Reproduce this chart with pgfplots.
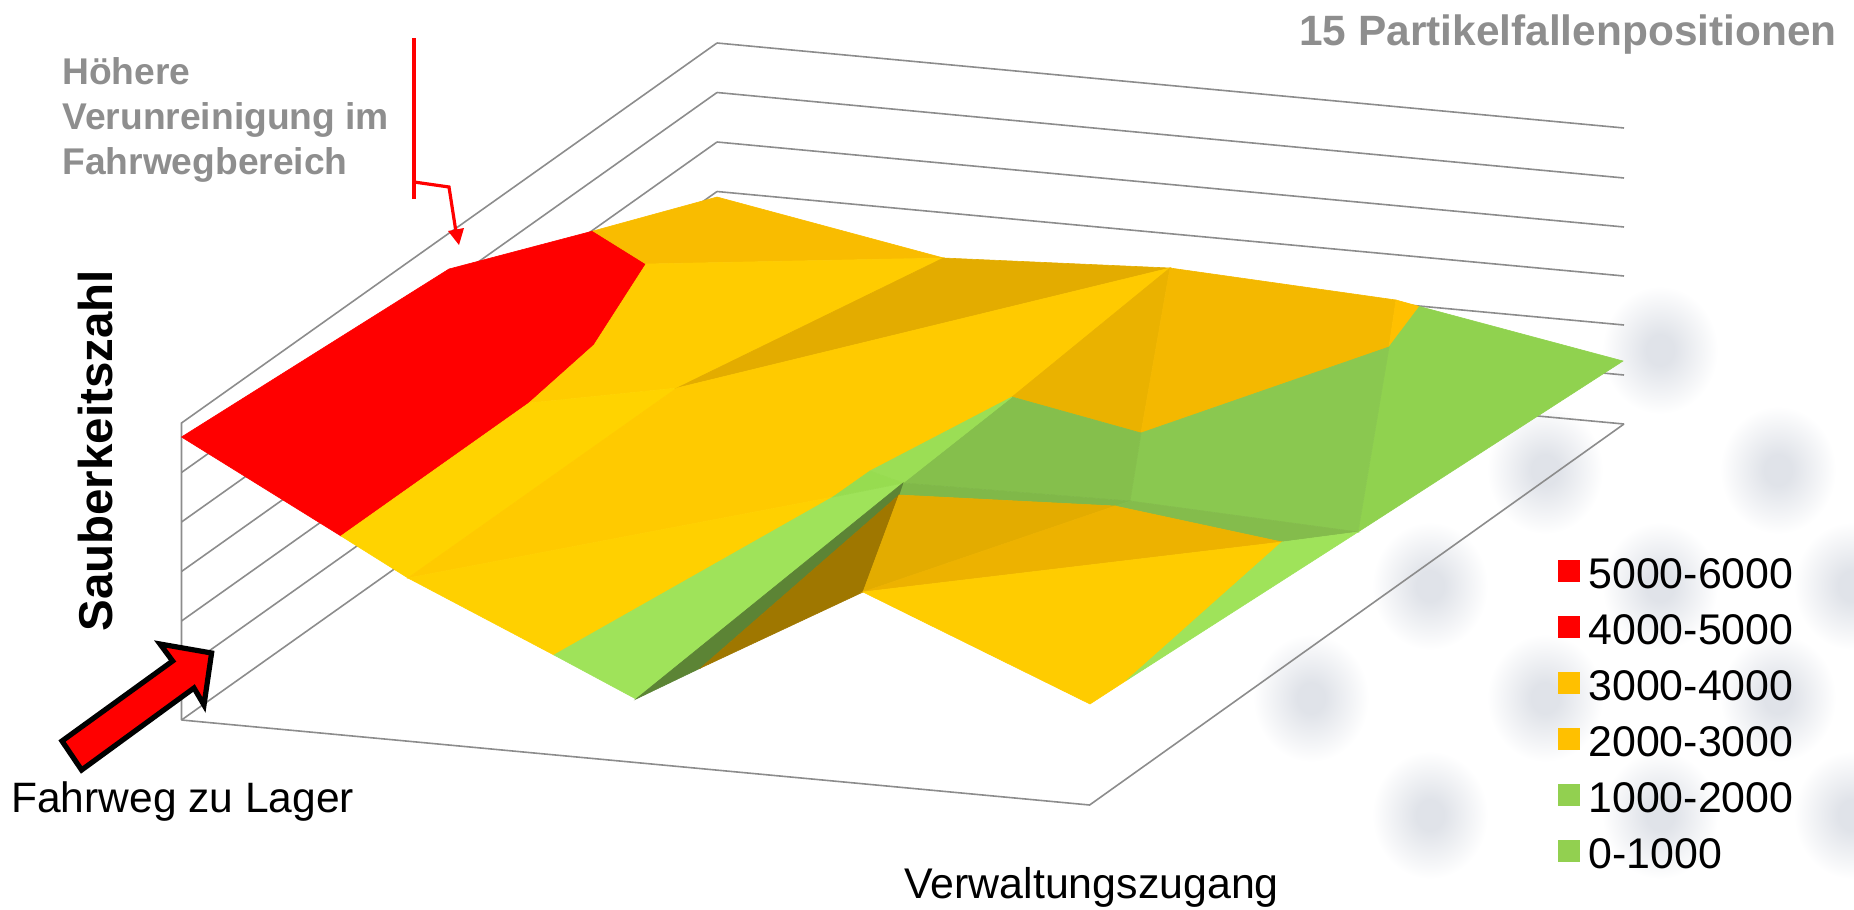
\documentclass[border=0pt]{standalone}
\usepackage{pgfplots}
\pgfplotsset{compat=1.18}
\usepackage{fontspec}
\setmainfont{Liberation Sans}

\definecolor{gridc}{HTML}{8C8C8C}
\definecolor{txtgrey}{HTML}{8E8E8E}
\definecolor{blobc}{HTML}{E0E3E9}
\definecolor{legorange}{HTML}{FFC000}
\definecolor{leggreen}{HTML}{92D050}

% soft background spots
\pgfdeclareradialshading{blobfade}{\pgfpointorigin}{color(0bp)=(blobc); color(6bp)=(blobc); color(25bp)=(white)}
\pgfdeclareplotmark{blob}{%
  \pgfpathellipse{\pgfpointorigin}{\pgfqpoint{29pt}{0pt}}{\pgfqpoint{0pt}{32pt}}%
  \pgfshadepath{blobfade}{0}\pgfusepath{discard}}

% facet colours of the surface
\newcommand{\mkc}[1]{\definecolor{c#1}{HTML}{#1}}
\mkc{FF0000}\mkc{F9BC00}\mkc{FFCC00}\mkc{FFD300}\mkc{E3AC00}\mkc{FFCA00}\mkc{FFD000}
\mkc{EAB200}\mkc{F4B800}\mkc{FFC000}\mkc{90D24F}\mkc{8AC850}\mkc{85BF4C}\mkc{80B849}
\mkc{84BC4C}\mkc{9FE35A}\mkc{9BDE55}\mkc{97DC50}\mkc{5C8435}\mkc{9F7700}\mkc{EDB200}

\newcommand{\fct}[2]{\addplot[forget plot,fill=c#1,draw=c#1,line width=0.3pt] coordinates {#2} --cycle;}
\newcommand{\gridline}[1]{\addplot[forget plot,gridc,line width=0.8pt] coordinates {#1};}

\pgfplotsset{pixelaxis/.style={
  at={(0,0)},anchor=south west,
  scale only axis,width=927pt,height=455pt,
  xmin=0,xmax=1854,ymin=0,ymax=910,y dir=reverse,
  axis lines=none,clip=true}}

\begin{document}
\begin{tikzpicture}
\path[use as bounding box] (0,0) rectangle (927pt,455pt);
% background spots sit in their own axis, beneath everything else
\begin{axis}[pixelaxis]
\addplot[forget plot,only marks,mark=blob] coordinates {
 (1660,350) (1545,470) (1778,470) (1430,586) (1660,586) (1852,586)
 (1311,698) (1545,698) (1778,698) (1430,815) (1660,815) (1852,815) (1545,925) (1778,925)};
\end{axis}
\begin{axis}[pixelaxis,
  legend image code/.code={\fill[draw=none,#1] (0pt,3pt) rectangle (11pt,13.8pt);\path (15pt,0pt);},
  legend style={at={(axis cs:1558,558)},anchor=north west,draw=none,fill=none,
    inner sep=0pt,outer sep=0pt,
    font=\fontsize{21.45}{21.45}\selectfont,row sep=0pt,
    nodes={inner sep=0pt,outer sep=0pt,text height=15pt,text depth=13pt,anchor=base west}},
  legend cell align=left,
]
% left wall
\gridline{(181.5,720) (181.5,423) (717,43)}
\gridline{(181.5,472.5) (717,92.5)}\gridline{(181.5,522) (717,142)}
\gridline{(181.5,571.5) (717,191.5)}\gridline{(181.5,621) (717,241)}
\gridline{(181.5,670.5) (717,290.5)}\gridline{(181.5,720) (717,340)}
% back wall
\gridline{(717,43) (1624,128)}\gridline{(717,92.5) (1624,178)}
\gridline{(717,142) (1624,227)}\gridline{(717,191.5) (1624,276)}
\gridline{(717,241) (1624,325)}\gridline{(717,290.5) (1624,375)}
\gridline{(717,340) (1624,424)}
% floor
\gridline{(181.5,720) (1089.6,805) (1624,424)}

% surface, back to front
\fct{FF0000}{(181.5,437) (449,269) (593,231) (646,264) (594,345) (529,403) (341,536)}
\fct{F9BC00}{(593,231) (717,197) (943.5,258) (646,264)}
\fct{FFCC00}{(646,264) (943.5,258) (677,388) (529,403) (594,345)}
\fct{FFD300}{(529,403) (677,388) (408,578) (341,536)}
\fct{E3AC00}{(943.5,258) (1170,268) (677,388)}
\fct{FFCA00}{(677,388) (1170,268) (1012,397) (870,471) (833,497) (408,578)}
\fct{FFD000}{(408,578) (833,497) (554,655)}
\fct{EAB200}{(1012,397) (1170,268) (1141,433)}
\fct{F4B800}{(1170,268) (1396,300) (1389,347) (1141,433)}
\fct{FFC000}{(1396,300) (1419.5,306.5) (1389,347)}
\fct{90D24F}{(1389,347) (1419.5,306.5) (1623,361) (1358,532)}
\fct{8AC850}{(1141,433) (1389,347) (1358,532) (1130,501)}
\fct{85BF4C}{(1012,397) (1141,433) (1130,501) (903,483)}
\fct{80B849}{(903,483) (1130,501) (1115,506) (899,495)}
\fct{84BC4C}{(1130,501) (1358,532) (1282,542) (1115,506)}
\fct{9FE35A}{(554,655) (833,497) (903,483) (636,699)}
\fct{9BDE55}{(870,471) (1012,397) (903,483)}
\fct{97DC50}{(870,471) (903,483) (833,497)}
\fct{5C8435}{(636,699) (903,483) (899,495) (700.6,668)}
\fct{9F7700}{(700.6,668) (899,495) (863,592)}
\fct{E3AC00}{(899,495) (1115,506) (863,592)}
\fct{EDB200}{(863,592) (1115,506) (1282,542)}
\fct{FFCC00}{(863,592) (1282,542) (1127,680) (1090,704)}
\fct{9FE35A}{(1282,542) (1358,532) (1127,680)}

% callout to the raised edge
\addplot[forget plot,red,line width=1.7pt] coordinates {(414,38) (414,199)};
\addplot[forget plot,red,line width=1.6pt,line join=miter] coordinates {(414,182) (449,187) (456,232)};
\addplot[forget plot,fill=red,draw=none] coordinates {(448,231) (464,228) (459,245)} --cycle;

% arrow marking the travel route
\addplot[forget plot,fill=red,draw=black,line width=2.6pt,line join=miter,miter limit=10]
  coordinates {(160,644) (211.6,653) (204,705) (194,688) (81.6,770) (62,741) (172.6,661)} --cycle;

% legend
\addlegendimage{fill=red}\addlegendentry{5000-6000}
\addlegendimage{fill=red}\addlegendentry{4000-5000}
\addlegendimage{fill=legorange}\addlegendentry{3000-4000}
\addlegendimage{fill=legorange}\addlegendentry{2000-3000}
\addlegendimage{fill=leggreen}\addlegendentry{1000-2000}
\addlegendimage{fill=leggreen}\addlegendentry{0-1000}

% labels
\node[anchor=base east,inner sep=0pt,text=txtgrey,font=\bfseries\fontsize{21.2}{21.2}\selectfont] at (axis cs:1837,46) {15 Partikelfallenpositionen};
\node[anchor=base west,inner sep=0pt,text=txtgrey,font=\bfseries\fontsize{18.6}{18.6}\selectfont] at (axis cs:62,84) {Höhere};
\node[anchor=base west,inner sep=0pt,text=txtgrey,font=\bfseries\fontsize{18.6}{18.6}\selectfont] at (axis cs:62,129) {Verunreinigung im};
\node[anchor=base west,inner sep=0pt,text=txtgrey,font=\bfseries\fontsize{18.6}{18.6}\selectfont] at (axis cs:62,174) {Fahrwegbereich};
\node[anchor=base west,rotate=90,inner sep=0pt,font=\bfseries\fontsize{23.75}{23.75}\selectfont] at (axis cs:112,632) {Sauberkeitszahl};
\node[anchor=base west,inner sep=0pt,font=\fontsize{21.25}{21.25}\selectfont] at (axis cs:11,812) {Fahrweg zu Lager};
\node[anchor=base west,inner sep=0pt,font=\fontsize{21.45}{21.45}\selectfont] at (axis cs:904,898) {Verwaltungszugang};
\end{axis}
\end{tikzpicture}
\end{document}
